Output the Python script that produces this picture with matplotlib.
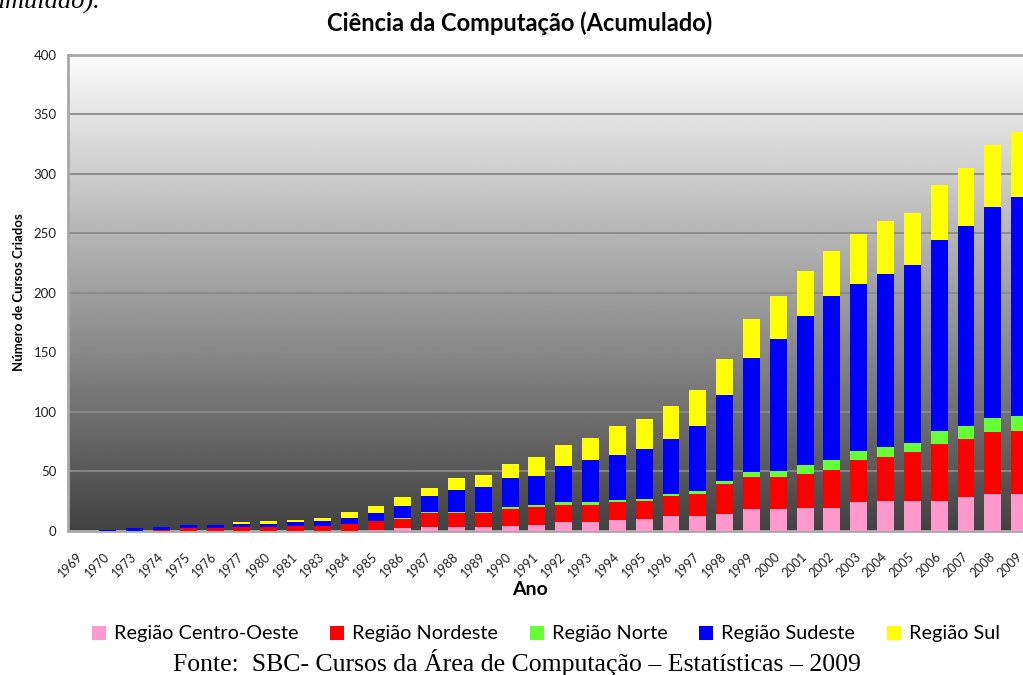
import numpy as np
import matplotlib
matplotlib.use("Agg")
import matplotlib.pyplot as plt
from matplotlib.patches import Patch

years = ["1969", "1970", "1973", "1974", "1975", "1976", "1977", "1980", "1981", "1983",
         "1984", "1985", "1986", "1987", "1988", "1989", "1990", "1991", "1992", "1993",
         "1994", "1995", "1996", "1997", "1998", "1999", "2000", "2001", "2002", "2003",
         "2004", "2005", "2006", "2007", "2008", "2009"]

centro_oeste = [0, 0, 0, 0, 0, 0, 0, 0, 0, 0, 0, 1, 2, 3, 3, 3, 4, 5, 7, 7,
                9, 10, 12, 12, 14, 18, 18, 19, 19, 24, 25, 25, 25, 28, 31, 31]
nordeste = [0, 0, 0, 1, 2, 2, 3, 3, 4, 4, 6, 7, 8, 12, 12, 12, 14, 15, 15, 15,
            15, 15, 17, 19, 25, 27, 27, 29, 32, 35, 37, 41, 48, 49, 52, 53]
norte = [0, 0, 0, 0, 0, 0, 0, 0, 0, 0, 0, 0, 1, 1, 1, 1, 2, 2, 2, 2,
         2, 2, 2, 2, 3, 4, 5, 7, 8, 8, 8, 8, 11, 11, 12, 12]
sudeste = [0, 1, 2, 2, 3, 3, 3, 3, 3, 4, 5, 7, 10, 13, 18, 21, 24, 24, 30, 35,
           38, 42, 46, 55, 72, 96, 111, 125, 138, 140, 146, 149, 160, 168, 177, 184]
sul = [0, 0, 0, 0, 0, 0, 1, 2, 2, 3, 5, 6, 7, 7, 10, 10, 12, 16, 18, 19,
       24, 25, 28, 30, 30, 33, 36, 38, 38, 42, 44, 44, 46, 49, 52, 55]

series_names = ["Região Centro-Oeste", "Região Nordeste", "Região Norte",
                "Região Sudeste", "Região Sul"]
series_colors = ["#ff99cc", "#ff0000", "#66ff33", "#0000ff", "#ffff00"]
series_values = [centro_oeste, nordeste, norte, sudeste, sul]

W, H = 1023, 675
fig = plt.figure(figsize=(W / 100, H / 100), dpi=100)
fig.patch.set_facecolor("white")

# axes extends slightly past the right edge, as in the reference
left_px, right_px, top_px, bot_px = 67.6, 1033.0, 54.5, 530.7
ax = fig.add_axes([left_px / W, 1 - bot_px / H, (right_px - left_px) / W, (bot_px - top_px) / H])

# gradient background (light on top, dark at bottom)
grad = np.linspace(0.26, 0.985, 256).reshape(-1, 1)
ax.imshow(grad, extent=[0, 1, 0, 1], transform=ax.transAxes, aspect="auto",
          cmap="gray", vmin=0, vmax=1, origin="lower", zorder=0, interpolation="bilinear")

x = np.arange(len(years))
bottom = np.zeros(len(years))
for name, vals, col in zip(series_names, series_values, series_colors):
    v = np.array(vals, dtype=float)
    ax.bar(x, v, bottom=bottom, width=0.63, color=col, edgecolor="none", zorder=3, label=name)
    bottom += v

ax.set_xlim(-0.5, len(years) - 0.5)
ax.set_ylim(0, 400)
ax.set_yticks(np.arange(0, 401, 50))
ax.yaxis.grid(True, color="#8a8a8a", linewidth=1.3)
ax.set_axisbelow(True)

font = "Lato"
ax.set_xticks(x)
ax.set_xticklabels(years, rotation=45, ha="right", va="center", rotation_mode="anchor",
                   fontsize=9, family=font, color="#222222")
ax.tick_params(axis="x", length=0, pad=17)
ax.tick_params(axis="y", length=0, pad=8, labelsize=9.5, labelcolor="#222222")
for lab in ax.get_yticklabels():
    lab.set_family(font)

for s in ["left", "top", "bottom"]:
    ax.spines[s].set_color("#a8a8a8")
    ax.spines[s].set_linewidth(2)
ax.spines["right"].set_visible(False)

ax.set_ylabel("Número de Cursos Criados", fontsize=9.5, fontweight="bold", family=font)
ax.yaxis.set_label_coords(-(left_px - 25) / (right_px - left_px), 0.5)
ax.set_xlabel("Ano", fontsize=14, fontweight="bold", family=font)
ax.xaxis.set_label_coords((530 - left_px) / (right_px - left_px), -(581 - bot_px) / (bot_px - top_px))

fig.text(520 / W, 1 - 23 / H, "Ciência da Computação (Acumulado)", ha="center", va="center",
         fontsize=17, fontweight="bold", family=font)

handles = [Patch(facecolor=c, edgecolor="none") for c in series_colors]
fig.legend(handles, series_names, loc="center", bbox_to_anchor=(546 / W, 1 - 634 / H), ncol=5,
           frameon=False, prop={"family": font, "size": 14.3}, handlelength=0.7, handleheight=0.7,
           handletextpad=0.4, columnspacing=1.6, borderaxespad=0)

fig.text(517 / W, 1 - 662 / H, "Fonte:  SBC- Cursos da Área de Computação – Estatísticas – 2009",
         ha="center", va="center", fontsize=18.5, family="Liberation Serif")

fig.text(100 / W, 1 - 9 / H, "cumulado).", ha="right", va="baseline", fontsize=19,
         style="italic", family="Liberation Serif")

fig.savefig("out.png", dpi=100, facecolor="white")
